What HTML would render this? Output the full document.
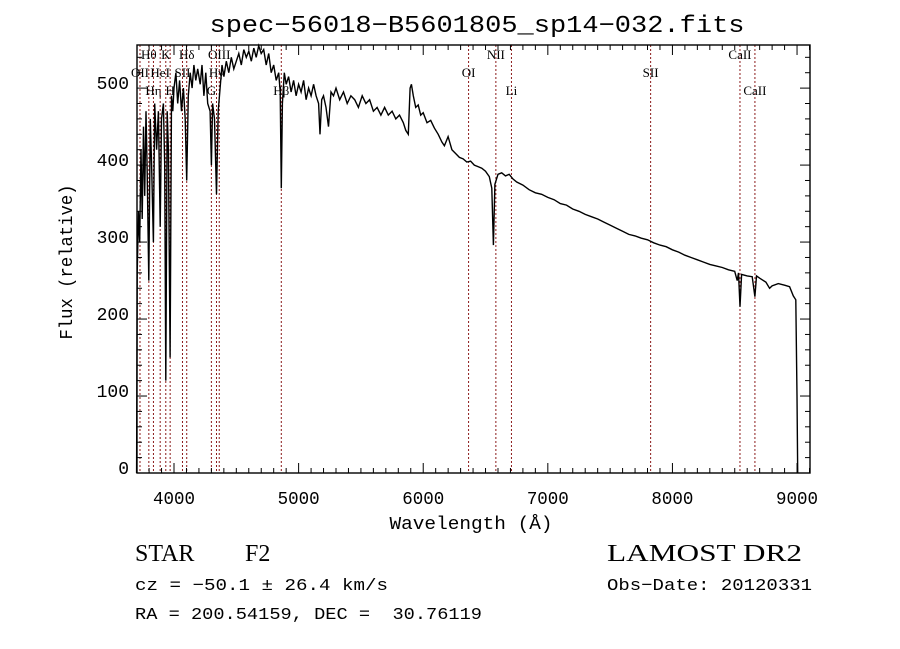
<!DOCTYPE html>
<html><head><meta charset="utf-8"><style>
html,body{margin:0;padding:0;background:#fff;}
svg{display:block;}
text{font-family:"Liberation Mono",monospace;fill:#000;}
.lbl{font-family:"Liberation Serif",serif;font-size:13px;}
.ser{font-family:"Liberation Serif",serif;}
</style></head><body>
<svg id="chart" width="900" height="649" viewBox="0 0 900 649">
<rect width="900" height="649" fill="#fff"/>
<text x="477" y="32" font-size="24" text-anchor="middle" textLength="535" lengthAdjust="spacingAndGlyphs">spec−56018−B5601805_sp14−032.fits</text>
<g id="lines"></g>
<g id="spec"></g>
<g id="axes"></g>
<text x="72" y="262" font-size="18" text-anchor="middle" textLength="155" lengthAdjust="spacingAndGlyphs" transform="rotate(-90 72 262)">Flux (relative)</text>
<text x="471" y="529" font-size="18" text-anchor="middle" textLength="163" lengthAdjust="spacingAndGlyphs">Wavelength (Å)</text>
<text x="135" y="561" font-size="24" class="ser">STAR</text>
<text x="245" y="561" font-size="24" class="ser">F2</text>
<text x="135" y="590" font-size="17" textLength="253" lengthAdjust="spacingAndGlyphs">cz = −50.1 ± 26.4 km/s</text>
<text x="135" y="619" font-size="17" textLength="347" lengthAdjust="spacingAndGlyphs" xml:space="preserve">RA = 200.54159, DEC =  30.76119</text>
<text x="607" y="561" font-size="24" class="ser" textLength="195" lengthAdjust="spacingAndGlyphs">LAMOST DR2</text>
<text x="607" y="590" font-size="17" textLength="205" lengthAdjust="spacingAndGlyphs">Obs−Date: 20120331</text>
</svg>
<script>
const wave=[3700,3705,3715,3725,3735,3745,3755,3765,3775,3785,3798,3810,3820,3835,3845,3860,3875,3889,3900,3915,3925,3934,3945,3955,3969,3980,3990,4000,4015,4030,4045,4060,4075,4090,4102,4115,4130,4145,4160,4175,4190,4210,4225,4240,4255,4270,4290,4300,4310,4325,4341,4355,4370,4385,4400,4420,4440,4460,4480,4500,4520,4540,4560,4580,4600,4620,4640,4660,4680,4700,4720,4740,4760,4780,4800,4820,4840,4852,4861,4870,4885,4900,4920,4940,4960,4980,5000,5020,5040,5060,5080,5100,5120,5140,5160,5172,5185,5200,5220,5240,5260,5280,5300,5330,5360,5390,5420,5450,5480,5510,5540,5570,5600,5630,5660,5690,5720,5750,5780,5810,5840,5860,5880,5895,5905,5920,5940,5960,5980,6000,6030,6060,6090,6120,6150,6170,6200,6230,6260,6290,6320,6350,6380,6410,6440,6470,6500,6530,6550,6563,6575,6600,6630,6660,6690,6720,6750,6800,6850,6900,6950,7000,7050,7100,7150,7200,7250,7300,7350,7400,7450,7500,7550,7600,7650,7700,7750,7800,7850,7900,7950,8000,8050,8100,8150,8200,8250,8300,8350,8400,8450,8500,8520,8530,8542,8555,8600,8640,8662,8675,8700,8750,8780,8800,8850,8900,8940,8970,8990,9000,9005];
const flux=[0,260,340,300,420,330,450,360,470,390,250,460,400,300,480,420,470,320,460,480,400,120,470,420,150,490,470,500,520,480,510,470,500,460,380,490,520,500,530,510,525,505,530,490,520,480,470,400,480,460,362,470,500,530,515,535,520,540,525,535,545,530,550,540,548,535,552,540,555,545,550,530,545,520,530,510,520,495,370,480,520,505,515,495,510,490,505,495,510,485,500,490,505,490,480,440,485,490,475,450,495,490,500,485,495,480,490,485,475,490,480,485,470,475,465,475,465,470,460,465,455,445,440,500,505,490,475,478,465,468,455,458,448,440,430,425,437,420,415,410,408,404,405,400,398,396,392,385,370,296,375,388,390,386,388,382,378,374,368,364,362,358,355,350,348,343,340,336,333,330,326,322,318,314,310,308,305,303,299,296,294,290,287,283,280,277,274,271,269,267,264,262,250,260,216,258,256,255,229,256,253,248,240,243,246,244,242,230,225,100,0];
const lineWaves=[3727,3798,3835,3889,3934,3969,4068,4102,4300,4341,4363,4861,6364,6583,6708,7825,8542,8662];
const lineNames=["OII","Hθ","Hη","HeI","K","H","SII","Hδ","G","Hγ","OIII","Hβ","OI","NII","Li","SII","CaII","CaII"];
const lineRows=[1,0,2,1,0,2,1,0,2,1,0,2,1,0,2,1,0,2];
const xTicks=[4000,5000,6000,7000,8000,9000];
const yTicks=[0,100,200,300,400,500];
const L=137,R=810,T=45,B=473,XMIN=3703,XMAX=9104,YMIN=0,YMAX=556;
const NS='http://www.w3.org/2000/svg';
function xs(w){return L+(w-XMIN)/(XMAX-XMIN)*(R-L);}
function ys(f){return B-(f-YMIN)/(YMAX-YMIN)*(B-T);}
function mk(tag,attrs,parent){const e=document.createElementNS(NS,tag);for(const k in attrs)e.setAttribute(k,attrs[k]);parent.appendChild(e);return e;}
const gL=document.getElementById('lines'),gS=document.getElementById('spec'),gA=document.getElementById('axes');
const rowY=[59,77,95];
lineWaves.forEach((w,i)=>{
  const x=xs(w);
  const l=mk('line',{x1:x,x2:x,y1:T,y2:B,stroke:'#8b1a1a','stroke-width':1,'stroke-dasharray':'2,2'},gL);
  
  
  const t=mk('text',{x:x,y:rowY[lineRows[i]],'text-anchor':'middle',class:'lbl'},gL);
  t.textContent=lineNames[i];
  
  
});
let d='';
wave.forEach((w,i)=>{d+=(i?'L':'M')+xs(w).toFixed(1)+' '+ys(flux[i]).toFixed(1);});
const p=mk('path',{d:d,fill:'none',stroke:'#000','stroke-width':1.4},gS);


const fr=mk('rect',{x:L,y:T,width:R-L,height:B-T,fill:'none',stroke:'#000','stroke-width':1.4},gA);


for(let w=3800;w<=9100;w+=100){
  const x=xs(w),maj=w%1000===0,len=maj?10:5;
  mk('line',{x1:x,x2:x,y1:B,y2:B-len,stroke:'#000'},gA);
  mk('line',{x1:x,x2:x,y1:T,y2:T+len,stroke:'#000'},gA);
}
xTicks.forEach(w=>{
  const t=mk('text',{x:xs(w),y:504,'font-size':18,'text-anchor':'middle',textLength:42,lengthAdjust:'spacingAndGlyphs'},gA);
  t.textContent=w;
  
  
});
for(let f=0;f<=YMAX;f+=20){
  const y=ys(f),maj=f%100===0,len=maj?10:5;
  mk('line',{x1:L,x2:L+len,y1:y,y2:y,stroke:'#000'},gA);
  mk('line',{x1:R,x2:R-len,y1:y,y2:y,stroke:'#000'},gA);
}
yTicks.forEach(f=>{
  const t=mk('text',{x:129,y:ys(f)+1,'font-size':18,'text-anchor':'end'},gA);
  t.textContent=f;
  
  
});
</script>
</body></html>
